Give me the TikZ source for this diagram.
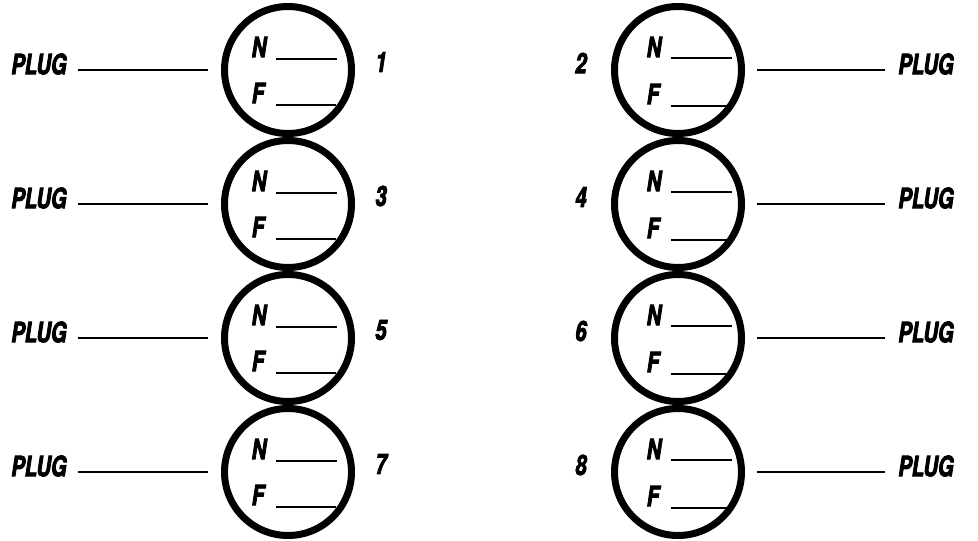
\documentclass[tikz,border=0pt]{standalone}
\usepackage{fontspec}
\usepackage{tikz}
\usetikzlibrary{positioning, calc}
\newfontfamily\rotulofont[FakeStretch=0.72, BoldItalicFeatures={FakeBold=3}]{TeX Gyre Heros}

\begin{document}
\begin{tikzpicture}[
        x=1pt, y=1pt,
        circulo/.style={
            circle,
            draw=black,
            line width=7pt,
            minimum size=127pt,
            inner sep=0pt
        },
        rotulo/.style={
            font=\rotulofont\bfseries\itshape\fontsize{28}{28}\selectfont,
            inner sep=0pt
        },
        linea/.style={
            line width=1.4pt,
            shorten <=13pt,
            shorten >=11pt
        },
        hueco/.style={
            line width=1.4pt
        }
    ]
    \useasboundingbox (0,0) rectangle (978,-541);

    % columna izquierda
    \node[circulo] (c1) at (288,-70) {};
    \node[circulo] (c3) at (288,-204) {};
    \node[circulo] (c5) at (288,-338) {};
    \node[circulo] (c7) at (288,-472) {};

    \node[rotulo] (n1) at ($(c1)+(-29,23)$) {N};
    \node[rotulo] (f1) at ($(c1)+(-30,-23)$) {F};
    \node[rotulo] (n3) at ($(c3)+(-29,23)$) {N};
    \node[rotulo] (f3) at ($(c3)+(-30,-23)$) {F};
    \node[rotulo] (n5) at ($(c5)+(-29,23)$) {N};
    \node[rotulo] (f5) at ($(c5)+(-30,-23)$) {F};
    \node[rotulo] (n7) at ($(c7)+(-29,23)$) {N};
    \node[rotulo] (f7) at ($(c7)+(-30,-23)$) {F};

    \draw[hueco] ([shift={(-12,11)}]c1.center) -- ++(61,0);
    \draw[hueco] ([shift={(-12,-35)}]c1.center) -- ++(60,0);
    \draw[hueco] ([shift={(-12,11)}]c3.center) -- ++(61,0);
    \draw[hueco] ([shift={(-12,-35)}]c3.center) -- ++(60,0);
    \draw[hueco] ([shift={(-12,11)}]c5.center) -- ++(61,0);
    \draw[hueco] ([shift={(-12,-35)}]c5.center) -- ++(60,0);
    \draw[hueco] ([shift={(-12,11)}]c7.center) -- ++(61,0);
    \draw[hueco] ([shift={(-12,-35)}]c7.center) -- ++(60,0);

    \node[rotulo] (num1) at ($(c1)+(93,8)$) {1};
    \node[rotulo] (num3) at ($(c3)+(93,8)$) {3};
    \node[rotulo] (num5) at ($(c5)+(93,8)$) {5};
    \node[rotulo] (num7) at ($(c7)+(93,8)$) {7};

    \node[rotulo] (p1) at ($(c1)+(-249,6)$) {PLUG};
    \node[rotulo] (p3) at ($(c3)+(-249,6)$) {PLUG};
    \node[rotulo] (p5) at ($(c5)+(-249,6)$) {PLUG};
    \node[rotulo] (p7) at ($(c7)+(-249,6)$) {PLUG};

    \draw[linea] (c1.west) -- (c1.west -| p1.east);
    \draw[linea] (c3.west) -- (c3.west -| p3.east);
    \draw[linea] (c5.west) -- (c5.west -| p5.east);
    \draw[linea] (c7.west) -- (c7.west -| p7.east);

    % columna derecha
    \node[circulo] (c2) at (678,-70) {};
    \node[circulo] (c4) at (678,-204) {};
    \node[circulo] (c6) at (678,-338) {};
    \node[circulo] (c8) at (678,-472) {};

    \node[rotulo] (n2) at ($(c2)+(-24,23)$) {N};
    \node[rotulo] (f2) at ($(c2)+(-25,-24)$) {F};
    \node[rotulo] (n4) at ($(c4)+(-24,23)$) {N};
    \node[rotulo] (f4) at ($(c4)+(-25,-24)$) {F};
    \node[rotulo] (n6) at ($(c6)+(-24,23)$) {N};
    \node[rotulo] (f6) at ($(c6)+(-25,-24)$) {F};
    \node[rotulo] (n8) at ($(c8)+(-24,23)$) {N};
    \node[rotulo] (f8) at ($(c8)+(-25,-24)$) {F};

    \draw[hueco] ([shift={(-7,12)}]c2.center) -- ++(61,0);
    \draw[hueco] ([shift={(-7,-36)}]c2.center) -- ++(58,0);
    \draw[hueco] ([shift={(-7,12)}]c4.center) -- ++(61,0);
    \draw[hueco] ([shift={(-7,-36)}]c4.center) -- ++(58,0);
    \draw[hueco] ([shift={(-7,12)}]c6.center) -- ++(61,0);
    \draw[hueco] ([shift={(-7,-36)}]c6.center) -- ++(58,0);
    \draw[hueco] ([shift={(-7,12)}]c8.center) -- ++(61,0);
    \draw[hueco] ([shift={(-7,-36)}]c8.center) -- ++(58,0);

    \node[rotulo] (num2) at ($(c2)+(-97,7)$) {2};
    \node[rotulo] (num4) at ($(c4)+(-97,7)$) {4};
    \node[rotulo] (num6) at ($(c6)+(-97,7)$) {6};
    \node[rotulo] (num8) at ($(c8)+(-97,7)$) {8};

    \node[rotulo] (p2) at ($(c2)+(248,6)$) {PLUG};
    \node[rotulo] (p4) at ($(c4)+(248,6)$) {PLUG};
    \node[rotulo] (p6) at ($(c6)+(248,6)$) {PLUG};
    \node[rotulo] (p8) at ($(c8)+(248,6)$) {PLUG};

    \draw[linea, shorten <=12pt, shorten >=13pt] (c2.east) -- (c2.east -| p2.west);
    \draw[linea, shorten <=12pt, shorten >=13pt] (c4.east) -- (c4.east -| p4.west);
    \draw[linea, shorten <=12pt, shorten >=13pt] (c6.east) -- (c6.east -| p6.west);
    \draw[linea, shorten <=12pt, shorten >=13pt] (c8.east) -- (c8.east -| p8.west);

\end{tikzpicture}
\end{document}
